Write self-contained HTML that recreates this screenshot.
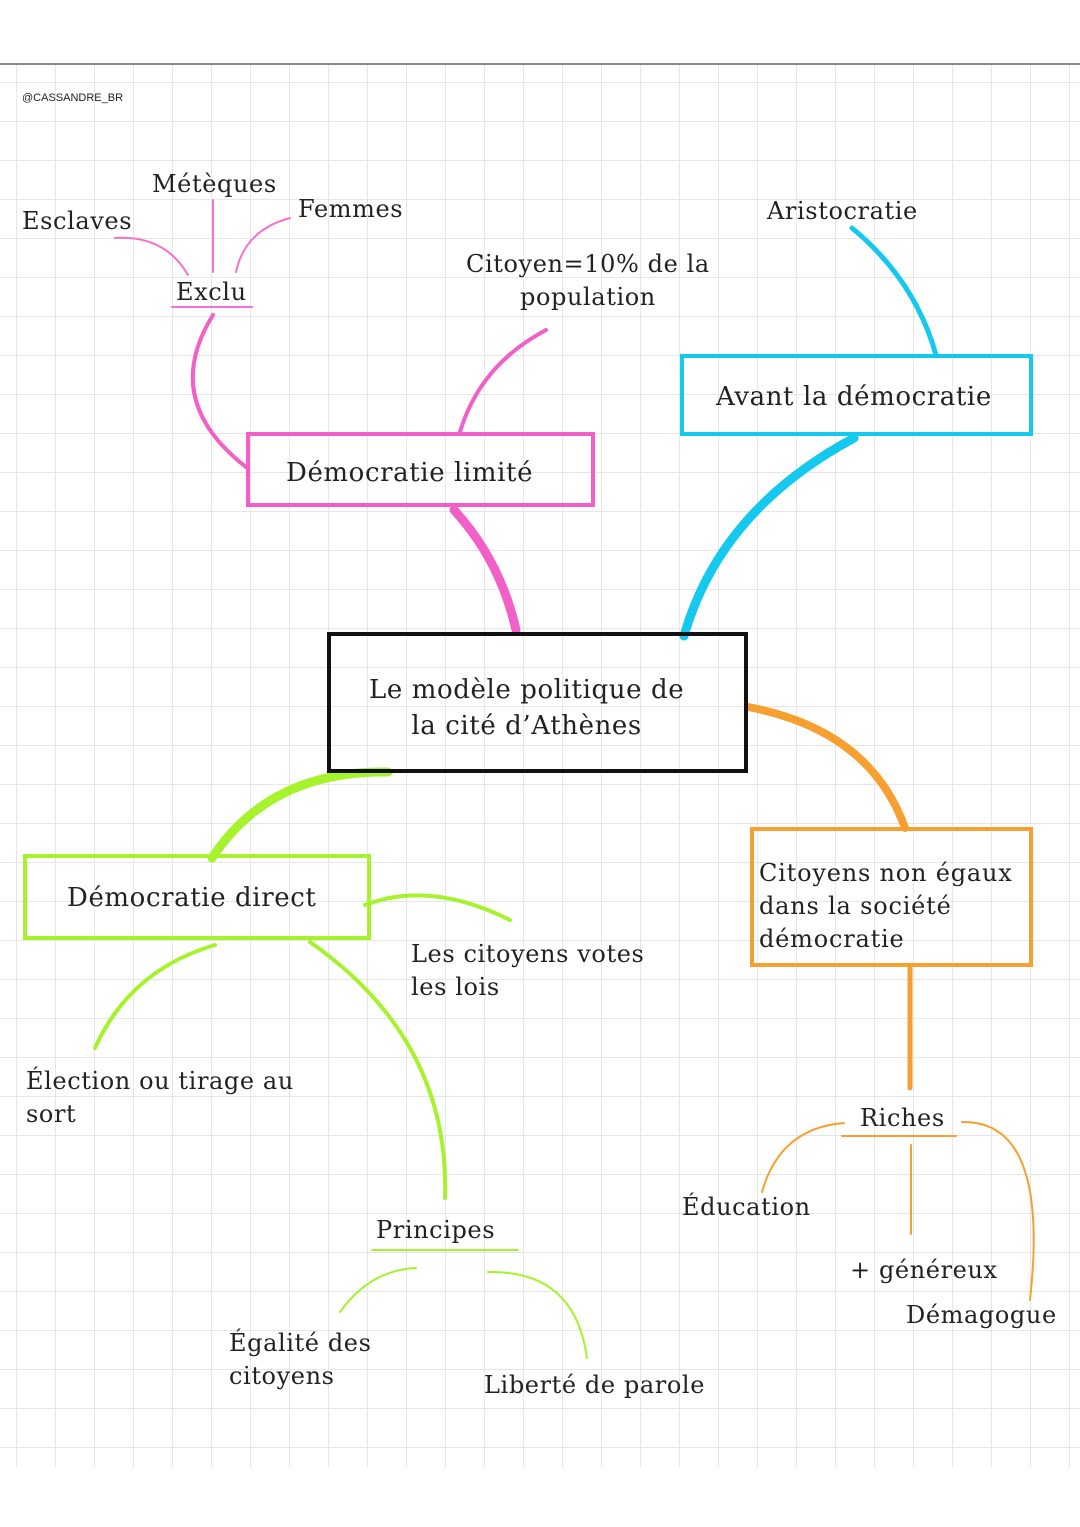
<!DOCTYPE html>
<html><head><meta charset="utf-8"><style>
html,body{margin:0;padding:0;background:#fff}
body{width:1080px;height:1527px;position:relative;overflow:hidden;font-family:"DejaVu Serif","Liberation Serif",serif;color:#222}
.t{position:absolute;font-size:24px;line-height:33px;white-space:nowrap;letter-spacing:0.6px}
.grid{position:absolute;left:0;top:63px;width:1080px;height:1402px;
background-image:linear-gradient(#e6e6e6 1px,transparent 1px),linear-gradient(90deg,#e6e6e6 1px,transparent 1px);
background-size:39px 39px;background-position:16px 17px;border-top:2px solid #8a8a8a}
.box{position:absolute;box-sizing:border-box;border:4px solid}
</style></head><body>
<div class="grid"></div>
<div class="t" style="left:22px;top:90px;font-family:'Liberation Sans',sans-serif;font-size:11px;line-height:16px;letter-spacing:0">@CASSANDRE_BR</div>
<svg width="1080" height="1527" style="position:absolute;left:0;top:0" fill="none" stroke-linecap="round">
<g stroke="#f472cc" stroke-width="2">
<path d="M115 238 Q165 235 188 275"/><path d="M213 200 L213 272"/><path d="M290 218 Q245 230 236 272"/>
<line x1="172" y1="307" x2="252" y2="307"/>
</g>
<g stroke="#f25fc8" stroke-width="4">
<path d="M213 315 Q160 400 246 467"/><path d="M546 330 Q480 365 460 432"/>
</g>
<path d="M454 510 Q500 560 516 630" stroke="#f25fc8" stroke-width="9"/>
<path d="M852 228 Q915 280 936 355" stroke="#14c8ee" stroke-width="5"/>
<path d="M854 438 Q720 510 684 636" stroke="#14c8ee" stroke-width="9"/>
<path d="M748 707 Q870 730 905 828" stroke="#f5a031" stroke-width="8"/>
<path d="M910 966 L910 1088" stroke="#f5a031" stroke-width="5"/>
<g stroke="#f5a031" stroke-width="2">
<line x1="842" y1="1136" x2="956" y2="1136"/>
<path d="M844 1123 Q780 1128 762 1192"/><path d="M911 1145 L911 1234"/><path d="M962 1122 Q1050 1120 1030 1300"/>
</g>
<path d="M388 772 Q270 770 212 858" stroke="#a6f22c" stroke-width="9"/>
<g stroke="#a6f22c" stroke-width="4">
<path d="M365 905 Q430 880 510 920"/><path d="M215 945 Q130 970 95 1048"/><path d="M310 942 Q450 1040 445 1198"/>
</g>
<g stroke="#a6f22c" stroke-width="2">
<line x1="372" y1="1250" x2="518" y2="1250"/>
<path d="M416 1268 Q370 1270 340 1312"/><path d="M488 1272 Q575 1270 587 1358"/>
</g>
</svg>
<div class="box" style="left:246px;top:432px;width:349px;height:75px;border-color:#f25fc8"></div>
<div class="box" style="left:680px;top:354px;width:353px;height:82px;border-color:#14c8ee"></div>
<div class="box" style="left:327px;top:632px;width:421px;height:141px;border-color:#111"></div>
<div class="box" style="left:23px;top:854px;width:348px;height:86px;border-color:#a6f22c"></div>
<div class="box" style="left:750px;top:827px;width:283px;height:140px;border-color:#f5a031"></div>
<div class="t" style="left:152px;top:168px">Métèques</div>
<div class="t" style="left:22px;top:205px">Esclaves</div>
<div class="t" style="left:298px;top:193px">Femmes</div>
<div class="t" style="left:176px;top:276px">Exclu</div>
<div class="t" style="left:767px;top:195px">Aristocratie</div>
<div class="t" style="left:466px;top:248px;text-align:center">Citoyen=10% de la<br>population</div>
<div class="t" style="left:716px;top:381px;font-size:26px">Avant la démocratie</div>
<div class="t" style="left:286px;top:457px;font-size:26px">Démocratie limité</div>
<div class="t" style="left:369px;top:672px;font-size:26px;line-height:36px;text-align:center">Le modèle politique de<br>la cité d’Athènes</div>
<div class="t" style="left:67px;top:882px;font-size:26px">Démocratie direct</div>
<div class="t" style="left:759px;top:857px;font-size:24px;letter-spacing:0.8px">Citoyens non égaux<br>dans la société<br>démocratie</div>
<div class="t" style="left:411px;top:938px">Les citoyens votes<br>les lois</div>
<div class="t" style="left:26px;top:1065px">Élection ou tirage au<br>sort</div>
<div class="t" style="left:376px;top:1214px">Principes</div>
<div class="t" style="left:229px;top:1327px">Égalité des<br>citoyens</div>
<div class="t" style="left:484px;top:1369px">Liberté de parole</div>
<div class="t" style="left:860px;top:1102px">Riches</div>
<div class="t" style="left:682px;top:1191px">Éducation</div>
<div class="t" style="left:850px;top:1254px">+ généreux</div>
<div class="t" style="left:906px;top:1299px">Démagogue</div>
</body></html>
